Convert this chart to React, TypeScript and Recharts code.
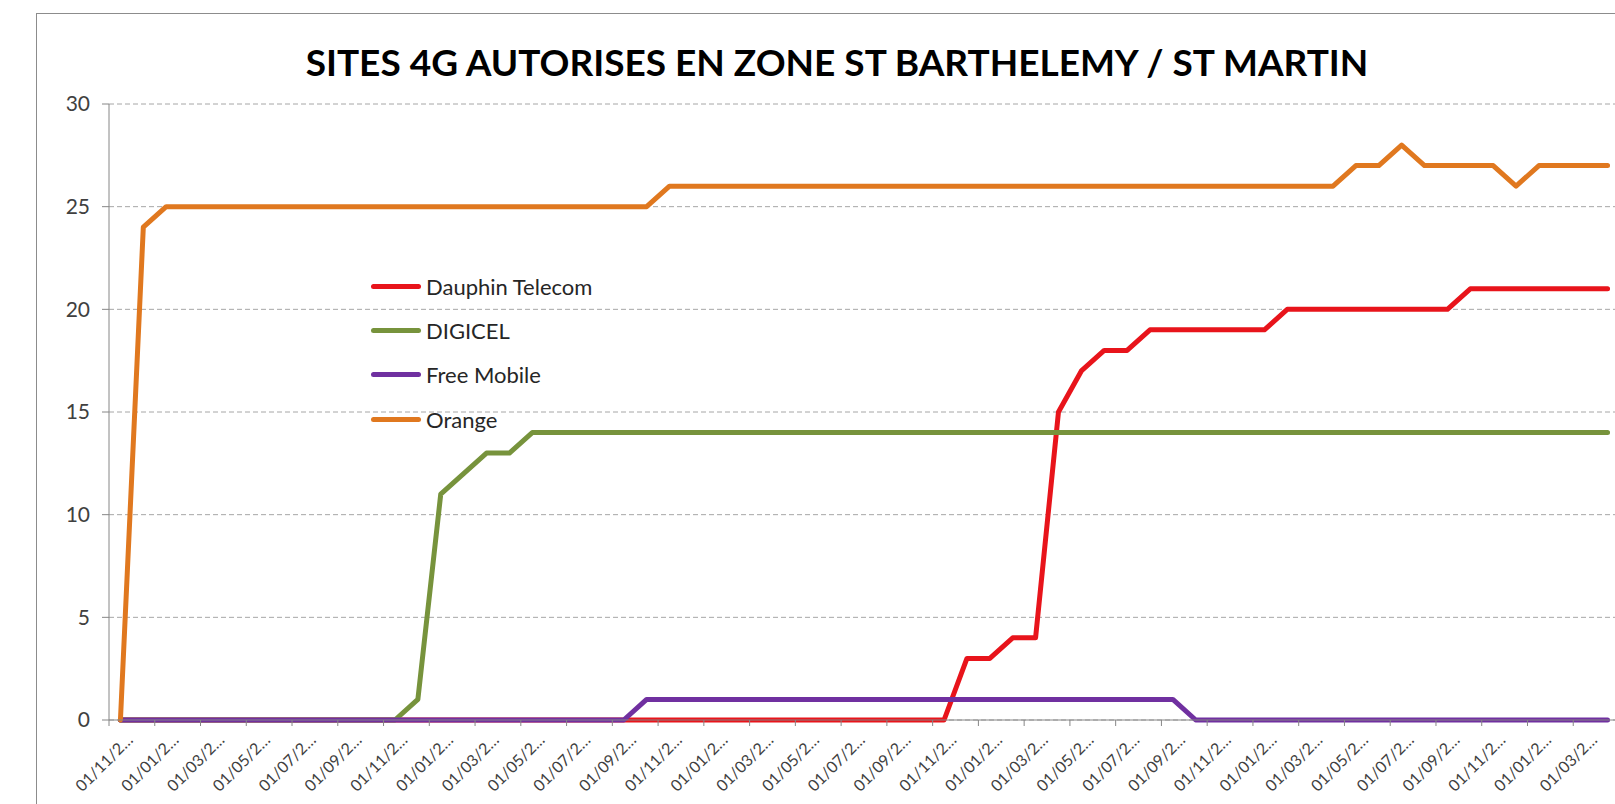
import { CartesianGrid, Legend, Line, LineChart, XAxis, YAxis } from 'recharts';

const FONT = 'Lato, "Open Sans", sans-serif';

// monthly survey dates (only the start is readable on the axis)
const months = [
  '01/11/2012', '01/12/2012',
  '01/01/2013', '01/02/2013', '01/03/2013', '01/04/2013', '01/05/2013', '01/06/2013',
  '01/07/2013', '01/08/2013', '01/09/2013', '01/10/2013', '01/11/2013', '01/12/2013',
  '01/01/2014', '01/02/2014', '01/03/2014', '01/04/2014', '01/05/2014', '01/06/2014',
  '01/07/2014', '01/08/2014', '01/09/2014', '01/10/2014', '01/11/2014', '01/12/2014',
  '01/01/2015', '01/02/2015', '01/03/2015', '01/04/2015', '01/05/2015', '01/06/2015',
  '01/07/2015', '01/08/2015', '01/09/2015', '01/10/2015', '01/11/2015', '01/12/2015',
  '01/01/2016', '01/02/2016', '01/03/2016', '01/04/2016', '01/05/2016', '01/06/2016',
  '01/07/2016', '01/08/2016', '01/09/2016', '01/10/2016', '01/11/2016', '01/12/2016',
  '01/01/2017', '01/02/2017', '01/03/2017', '01/04/2017', '01/05/2017', '01/06/2017',
  '01/07/2017', '01/08/2017', '01/09/2017', '01/10/2017', '01/11/2017', '01/12/2017',
  '01/01/2018', '01/02/2018', '01/03/2018', '01/04/2018',
];

const dauphinTelecom = [
  0, 0, 0, 0, 0, 0, 0, 0, 0, 0, 0, 0,
  0, 0, 0, 0, 0, 0, 0, 0, 0, 0, 0, 0,
  0, 0, 0, 0, 0, 0, 0, 0, 0, 0, 0, 0,
  0, 3, 3, 4, 4, 15, 17, 18, 18, 19, 19, 19,
  19, 19, 19, 20, 20, 20, 20, 20, 20, 20, 20, 21,
  21, 21, 21, 21, 21, 21,
];

const digicel = [
  0, 0, 0, 0, 0, 0, 0, 0, 0, 0, 0, 0,
  0, 1, 11, 12, 13, 13, 14, 14, 14, 14, 14, 14,
  14, 14, 14, 14, 14, 14, 14, 14, 14, 14, 14, 14,
  14, 14, 14, 14, 14, 14, 14, 14, 14, 14, 14, 14,
  14, 14, 14, 14, 14, 14, 14, 14, 14, 14, 14, 14,
  14, 14, 14, 14, 14, 14,
];

const freeMobile = [
  0, 0, 0, 0, 0, 0, 0, 0, 0, 0, 0, 0,
  0, 0, 0, 0, 0, 0, 0, 0, 0, 0, 0, 1,
  1, 1, 1, 1, 1, 1, 1, 1, 1, 1, 1, 1,
  1, 1, 1, 1, 1, 1, 1, 1, 1, 1, 1, 0,
  0, 0, 0, 0, 0, 0, 0, 0, 0, 0, 0, 0,
  0, 0, 0, 0, 0, 0,
];

const orange = [
  0, 24, 25, 25, 25, 25, 25, 25, 25, 25, 25, 25,
  25, 25, 25, 25, 25, 25, 25, 25, 25, 25, 25, 25,
  26, 26, 26, 26, 26, 26, 26, 26, 26, 26, 26, 26,
  26, 26, 26, 26, 26, 26, 26, 26, 26, 26, 26, 26,
  26, 26, 26, 26, 26, 26, 27, 27, 28, 27, 27, 27,
  27, 26, 27, 27, 27, 27,
];

const yTicks = [0, 5, 10, 15, 20, 25, 30];

const data = months.map((month, i) => ({
  month,
  dauphin: dauphinTelecom[i],
  digicel: digicel[i],
  free: freeMobile[i],
  orange: orange[i],
}));

const CHART_W = 1600;
const CHART_H = 786;
const MARGIN = { top: 90, right: 18, bottom: 0, left: 0 };
const Y_AXIS_W = 72;
const PLOT_W = CHART_W - MARGIN.left - MARGIN.right - Y_AXIS_W;
const BAND = PLOT_W / months.length;
const AXIS_COLOR = '#868686';
const LINE_W = 5;

function MonthTick(props: any) {
  const { x, y, payload } = props;
  const label = String(payload.value).slice(0, 7) + '\u2026';
  return (
    <g>
      <line x1={x - BAND / 2} x2={x - BAND / 2} y1={y} y2={y + 6} stroke={AXIS_COLOR} />
      <text
        transform={`translate(${x + BAND / 2 + 2}, ${y + 21}) rotate(-45)`}
        textAnchor="end"
        fontFamily={FONT}
        fontSize={16}
        fill="#404040"
      >
        {label}
      </text>
    </g>
  );
}

function LegendBox({ payload }: any) {
  return (
    <div style={{ fontFamily: FONT, fontSize: 22, color: '#262626' }}>
      {(payload || []).map((p: any) => (
        <div key={p.value} style={{ display: 'flex', alignItems: 'center', height: 44.4 }}>
          <span
            style={{
              display: 'inline-block',
              width: 50,
              height: 5,
              borderRadius: 3,
              background: p.color,
              marginRight: 5,
            }}
          />
          <span>{p.value}</span>
        </div>
      ))}
    </div>
  );
}

export default function App() {
  return (
    <div
      style={{
        position: 'absolute',
        left: 0,
        top: 0,
        width: 1615,
        height: 804,
        overflow: 'hidden',
        background: '#fff',
      }}
    >
      <div
        style={{
          position: 'absolute',
          left: 36,
          top: 13,
          width: CHART_W,
          height: 800,
          border: '1px solid #8c8c8c',
        }}
      >
        <div
          style={{
            position: 'absolute',
            left: 0,
            top: 29,
            width: CHART_W,
            textAlign: 'center',
            fontFamily: FONT,
            fontWeight: 700,
            fontSize: 37,
            lineHeight: '37px',
            color: '#000',
          }}
        >
          SITES 4G AUTORISES EN ZONE ST BARTHELEMY / ST MARTIN
        </div>
        <LineChart width={CHART_W} height={CHART_H} data={data} margin={MARGIN}>
          <CartesianGrid vertical={false} stroke="#a6a6a6" strokeDasharray="5 3" />
          <XAxis
            dataKey="month"
            interval={1}
            height={80}
            padding={{ left: BAND / 2, right: BAND / 2 }}
            axisLine={{ stroke: AXIS_COLOR }}
            tickLine={false}
            tickSize={0}
            tickMargin={0}
            tick={MonthTick}
          />
          <YAxis
            width={Y_AXIS_W}
            domain={[0, 30]}
            ticks={yTicks}
            interval={0}
            axisLine={{ stroke: AXIS_COLOR }}
            tickLine={{ stroke: AXIS_COLOR }}
            tickSize={7}
            tickMargin={12}
            tick={{ fontFamily: FONT, fontSize: 21, fill: '#404040' }}
          />
          <Legend
            layout="vertical"
            align="center"
            verticalAlign="middle"
            itemSorter="dataKey"
            content={LegendBox}
            wrapperStyle={{ left: 334, top: 250, width: 'auto' }}
          />
          <Line
            type="linear"
            dataKey="dauphin"
            name="Dauphin Telecom"
            stroke="#e8141b"
            strokeWidth={LINE_W}
            strokeLinejoin="round"
            strokeLinecap="round"
            dot={false}
            isAnimationActive={false}
          />
          <Line
            type="linear"
            dataKey="digicel"
            name="DIGICEL"
            stroke="#77933c"
            strokeWidth={LINE_W}
            strokeLinejoin="round"
            strokeLinecap="round"
            dot={false}
            isAnimationActive={false}
          />
          <Line
            type="linear"
            dataKey="free"
            name="Free Mobile"
            stroke="#7030a0"
            strokeWidth={LINE_W}
            strokeLinejoin="round"
            strokeLinecap="round"
            dot={false}
            isAnimationActive={false}
          />
          <Line
            type="linear"
            dataKey="orange"
            name="Orange"
            stroke="#e0781f"
            strokeWidth={LINE_W}
            strokeLinejoin="round"
            strokeLinecap="round"
            dot={false}
            isAnimationActive={false}
          />
        </LineChart>
      </div>
    </div>
  );
}
